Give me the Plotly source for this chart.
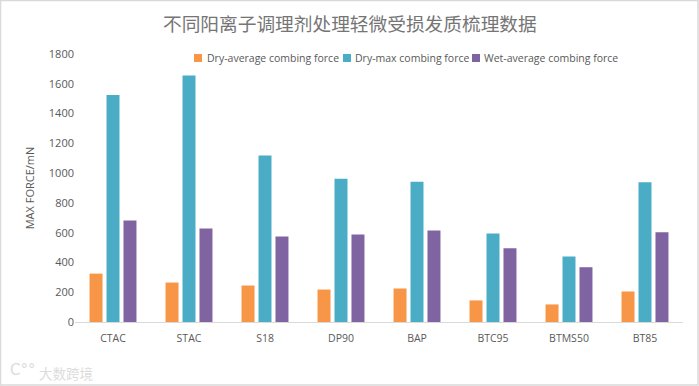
import plotly.graph_objects as go

categories = ["CTAC", "STAC", "S18", "DP90", "BAP", "BTC95", "BTMS50", "BT85"]
dry_avg = [325, 265, 245, 218, 225, 145, 118, 205]
dry_max = [1525, 1655, 1118, 962, 942, 595, 440, 938]
wet_avg = [682, 628, 575, 588, 615, 495, 368, 602]
series_names = ["Dry-average combing force", "Dry-max combing force", "Wet-average combing force"]
series_colors = ["#F79646", "#4BACC6", "#8064A2"]
tick_values = [0, 200, 400, 600, 800, 1000, 1200, 1400, 1600, 1800]
title = "不同阳离子调理剂处理轻微受损发质梳理数据"

W, H = 699, 386
L, R, T, B = 75, 683, 54, 322
font = "Open Sans, Noto Sans CJK SC, sans-serif"
px = lambda x: (x - L) / (R - L)
py = lambda y: (B - y) / (B - T)

fig = go.Figure()
for name, vals, col in zip(series_names, [dry_avg, dry_max, wet_avg], series_colors):
    fig.add_bar(x=categories, y=vals, name=name, marker=dict(color=col, line_width=0))

shapes = [dict(type="rect", xref="paper", yref="paper", x0=px(0.5), x1=px(W - 1), y0=py(H - 1), y1=py(0.5),
               line=dict(color="#D9D9D9", width=1.5), layer="below")]
annotations = [dict(text=title, xref="paper", yref="paper", x=px(349.5), y=py(22), xanchor="center", yanchor="middle",
                    showarrow=False, font=dict(family="Noto Sans CJK SC, sans-serif", size=18.7, color="#757575")),
               dict(text="大数跨境", xref="paper", yref="paper", x=px(37), xanchor="left", y=py(373), yanchor="middle",
                    showarrow=False, font=dict(family="Noto Sans CJK SC, sans-serif", size=13.5, color="#dcdcdc")),
               dict(text="C°°", xref="paper", yref="paper", x=px(8), xanchor="left", y=py(370), yanchor="middle",
                    showarrow=False, font=dict(family="DejaVu Sans", size=15, color="#dcdcdc"))]
for name, col, sx, tx in zip(series_names, series_colors, [194, 343, 472], [207, 355, 484]):
    shapes.append(dict(type="rect", xref="paper", yref="paper", x0=px(sx), x1=px(sx + 8), y0=py(62), y1=py(54),
                       fillcolor=col, line_width=0))
    annotations.append(dict(text=name, xref="paper", yref="paper", x=px(tx), y=py(58), xanchor="left", yanchor="middle",
                            xshift=-2, showarrow=False, font=dict(size=10.5, color="#595959")))

fig.update_layout(
    width=W, height=H, margin=dict(l=L, r=W - R, t=T, b=H - B, autoexpand=False),
    paper_bgcolor="white", plot_bgcolor="white", showlegend=False,
    barmode="group", bargap=0.33, bargroupgap=0.235,
    font=dict(family=font, size=11, color="#595959"),
    xaxis=dict(showgrid=False, showline=True, linecolor="#D9D9D9", linewidth=1, ticks="outside", ticklen=6,
               tickcolor="rgba(0,0,0,0)", tickfont=dict(size=10.5)),
    yaxis=dict(range=[0, 1800], tickvals=tick_values, showgrid=False, zeroline=False, ticks="",
               tickfont=dict(size=11),
               title=dict(text="MAX FORCE/mN", font=dict(size=11), standoff=11)),
    shapes=shapes, annotations=annotations,
)
fig.write_html("out.html", config=dict(displayModeBar=False),
               post_script="document.body.style.margin='0';document.documentElement.style.overflow='hidden';")
